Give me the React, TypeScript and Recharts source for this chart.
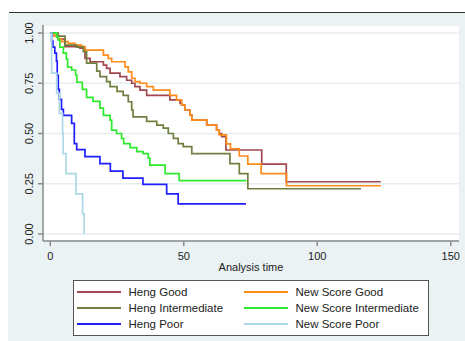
import { LineChart, Line, XAxis, YAxis, CartesianGrid } from "recharts";

// Kaplan-Meier steps: time and survival for each group
const hengGoodT = [0, 1.5, 3, 5.5, 11.1, 13, 14.9, 19.9, 21.1, 22.4, 26.1, 28.6, 30.5, 31.7, 33.6, 36.1, 44.8, 48.6, 49.2, 50.4, 52.3, 53, 58.6, 62.3, 63.3, 64.2, 65.8, 79.2, 88.4, 123.8];
const hengGoodS = [1, 0.985, 0.97, 0.932, 0.925, 0.874, 0.857, 0.84, 0.824, 0.8, 0.783, 0.765, 0.75, 0.733, 0.716, 0.69, 0.667, 0.65, 0.642, 0.617, 0.592, 0.567, 0.542, 0.517, 0.5, 0.484, 0.418, 0.348, 0.26, 0.26];

const newGoodT = [0, 1.5, 3, 4.3, 6.7, 9.3, 11.8, 13, 19.9, 21.7, 23, 28, 29.2, 30.5, 31.7, 33.6, 36.1, 38.6, 44.8, 47.3, 49.2, 50.4, 52.3, 53, 58.6, 62.3, 63.3, 66, 67.5, 70.8, 74, 79, 88.5, 123.8];
const newGoodS = [1, 0.985, 0.97, 0.957, 0.949, 0.94, 0.932, 0.915, 0.89, 0.874, 0.857, 0.832, 0.807, 0.775, 0.758, 0.75, 0.733, 0.716, 0.69, 0.667, 0.642, 0.617, 0.592, 0.567, 0.542, 0.517, 0.493, 0.448, 0.423, 0.388, 0.348, 0.3, 0.24, 0.24];

const hengIntT = [0, 3, 5.5, 9.9, 12.4, 13.6, 17.4, 18.6, 21.1, 22.4, 25, 27.3, 29.2, 30.5, 31, 36.1, 39.9, 42.3, 44.2, 46.1, 47.9, 49.8, 53, 67.3, 70.8, 74, 116.4];
const hengIntS = [1, 0.985, 0.94, 0.93, 0.907, 0.85, 0.81, 0.783, 0.758, 0.733, 0.71, 0.69, 0.658, 0.617, 0.583, 0.56, 0.542, 0.527, 0.5, 0.476, 0.45, 0.435, 0.4, 0.35, 0.3, 0.225, 0.225];

const newIntT = [0, 2.4, 3, 3.6, 4.9, 6, 6.5, 8, 9.5, 10, 12, 13.6, 16, 18.6, 19.9, 22.4, 23, 24.8, 26.7, 27.5, 29.9, 32.4, 34.8, 36.7, 37.3, 43, 48.3, 73.5];
const newIntS = [1, 0.98, 0.965, 0.93, 0.9, 0.87, 0.83, 0.816, 0.79, 0.755, 0.72, 0.68, 0.66, 0.626, 0.59, 0.567, 0.517, 0.5, 0.476, 0.45, 0.43, 0.41, 0.4, 0.377, 0.343, 0.3, 0.265, 0.265];

const hengPoorT = [0, 0.5, 1, 1.7, 2.3, 2.6, 3, 3.4, 4.2, 4.9, 8, 9, 9.9, 13, 18.6, 22.5, 27.2, 34.7, 43.6, 47.9, 73.3];
const hengPoorS = [1, 0.96, 0.93, 0.9, 0.86, 0.79, 0.72, 0.67, 0.62, 0.59, 0.55, 0.45, 0.42, 0.385, 0.35, 0.313, 0.278, 0.247, 0.2, 0.15, 0.15];

const newPoorT = [0, 0.5, 2.4, 3.4, 4.6, 4.8, 5.9, 9.6, 12.1, 12.7];
const newPoorS = [1, 0.8, 0.7, 0.6, 0.5, 0.4, 0.3, 0.2, 0.1, 0];

const groupNames = ["Heng Good", "New Score Good", "Heng Intermediate", "New Score Intermediate", "Heng Poor", "New Score Poor"];
const groupColors = ["#a0474f", "#ff8c1a", "#6f7f3f", "#2eea2e", "#1f1fff", "#add8e6"];

const xTicks = [0, 50, 100, 150];
const yTicks = [0, 0.25, 0.5, 0.75, 1];

const toPoints = (t: number[], s: number[]) => t.map((v, i) => ({ t: v, s: s[i] }));

const series = [
    toPoints(hengGoodT, hengGoodS),
    toPoints(newGoodT, newGoodS),
    toPoints(hengIntT, hengIntS),
    toPoints(newIntT, newIntS),
    toPoints(hengPoorT, hengPoorS),
    toPoints(newPoorT, newPoorS),
];

const font = '"Liberation Sans", Arial, sans-serif';

const YTick = (props: any) => {
    const { y, payload } = props;
    return (
        <text x={33.5} y={y} transform={`rotate(-90 33.5 ${y})`} textAnchor="middle" fontSize={11} fill="#222" fontFamily={font}>
            {Number(payload.value).toFixed(2)}
        </text>
    );
};

const XTick = (props: any) => {
    const { x, payload } = props;
    return (
        <text x={x} y={260} textAnchor="middle" fontSize={11} fill="#222" fontFamily={font}>
            {payload.value}
        </text>
    );
};

export default function App() {
    return (
        <div style={{ position: "relative", width: 465, height: 341, background: "#fff", fontFamily: font }}>
            <style>{"body { margin: 0; }"}</style>
            <div style={{ position: "absolute", left: 8, top: 13, right: 0, bottom: 0, background: "#eaf2f3" }} />
            <div style={{ position: "absolute", left: 9, top: 11.5, width: 456, height: 1.5, background: "#333" }} />
            <div style={{ position: "absolute", left: 0, top: 0 }}>
                <LineChart width={465} height={341} margin={{ top: 25, right: 6, bottom: 0, left: 0 }}>
                    <CartesianGrid vertical={false} stroke="#e6eef0" strokeWidth={1.5} fill="#ffffff" />
                    <XAxis
                        dataKey="t"
                        type="number"
                        domain={[-2.73, 153.1]}
                        ticks={xTicks}
                        interval={0}
                        allowDataOverflow
                        height={100}
                        tickSize={5}
                        stroke="#8a8a8a"
                        strokeWidth={1.5}
                        tick={XTick}
                        label={{
                            content: () => (
                                <text x={251} y={271} textAnchor="middle" fontSize={11} fill="#222" fontFamily={font}>
                                    Analysis time
                                </text>
                            ),
                        }}
                    />
                    <YAxis
                        type="number"
                        domain={[-0.035, 1.04]}
                        ticks={yTicks}
                        interval={0}
                        allowDataOverflow
                        width={43}
                        tickSize={5}
                        stroke="#8a8a8a"
                        strokeWidth={1.5}
                        tick={YTick}
                    />
                    {series.map((d, i) => (
                        <Line
                            key={groupNames[i]}
                            data={d}
                            dataKey="s"
                            type="stepAfter"
                            stroke={groupColors[i]}
                            strokeWidth={1.7}
                            dot={false}
                            isAnimationActive={false}
                        />
                    ))}
                </LineChart>
            </div>
            <div style={{ position: "absolute", left: 73, top: 280, width: 356, height: 56, background: "#fff", border: "1px solid #555", boxSizing: "border-box" }}>
                {groupNames.map((name, i) => {
                    const col = i % 2;
                    const row = Math.floor(i / 2);
                    return (
                        <div key={name} style={{ position: "absolute", left: col === 0 ? 3 : 170, top: 3 + row * 16, height: 16, display: "flex", alignItems: "center", fontSize: 11.5, color: "#222", whiteSpace: "nowrap" }}>
                            <div style={{ width: 44, height: 1.6, background: groupColors[i], marginRight: 7.5 }} />
                            {name}
                        </div>
                    );
                })}
            </div>
        </div>
    );
}
